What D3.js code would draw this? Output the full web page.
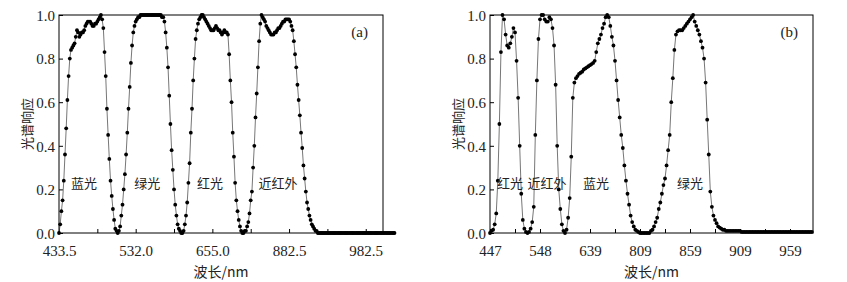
<!DOCTYPE html>
<html>
<head>
<meta charset="utf-8">
<script src="https://cdn.jsdelivr.net/npm/d3@7"></script>
<style>
  body{margin:0;background:#fff;}
  svg{display:block;}
  .cn{font-family:"Noto Sans CJK SC",sans-serif;fill:#222;}
</style>
</head>
<body>
<div id="chart"></div>
<script>
/* spectral response, two filter sets (a) and (b) — values in % */

// panel (a): 32 samples per axis tick step
const RESP_A = [
  0,4,10,15,24,36,48,61,72,80, 84,85,86,87,90,93,92,90,91,92,
  92,93,95,96,97,97,97,96,95,95, 96,96,97,98,99,100,98,94,83,72,
  57,45,34,24,17,11,6,2,1,0, 1,3,8,13,20,27,36,46,57,67,
  78,86,92,95,97,98,99,99,100,100, 100,100,100,100,100,100,100,100,100,100,
  100,100,100,100,100,100,99,99,97,92, 85,76,63,50,38,29,20,13,8,4,
  2,1,0,0,1,4,8,14,23,32, 46,57,70,80,89,93,96,98,99,100,
  100,99,98,97,96,95,94,93,93,93, 94,95,94,93,93,92,91,92,93,92,
  92,91,82,70,60,46,35,23,15,10, 6,3,1,0,0,1,1,3,5,9,
  15,19,30,40,53,64,76,88,96,100, 99,98,97,95,94,93,92,91,91,91,
  92,92,93,94,94,95,96,97,97,98, 98,98,98,97,95,93,88,82,76,68,
  61,54,46,39,31,25,19,14,11,8, 6,4,3,2,1,1,0,0,0,0,
  0,0,0,0,0,0,0,0,0,0, 0,0,0,0,0,0,0,0,0,0,
  0,0,0,0,0,0,0,0,0,0, 0,0,0,0,0,0,0,0,0,0,
  0,0,0,0,0,0,0,0,0,0, 0,0,0,0,0,0,0,0,0,0,
  0
];

// panel (b): 16 samples per axis tick step
const RESP_B = [
  0,1,1.5,4,9,24,50,83,100,98, 91,86,85,87,90,94,92,79,62,40,
  18,6,2,0.5,0,0.5,2,5,12,45, 70,89,98,100,100,98,97,97,99,98,
  94,86,68,40,20,11,4,1,0,1.5, 7,16,35,62,69,71,72,73,73.5,74,
  75,75.5,76,76.5,77,77.5,78,79,83,87, 89,91,94,96,99,100,99,95,90,86,
  79,70,61,53,45,39,31,24,18,13, 8,5,3,1.5,1,0.5,0,0,0,0,
  0,0,0,1,1.5,3,5,7,11,14, 18,22,25,31,38,45,60,71,84,91,
  92.5,93,93,93,94,95,96,97,98,99, 100,97,95,93,91,88,85,80,69,52,
  36,19,12,8,6,4.5,3,2.5,2,1.5, 1.5,1,1,1,1,1,1,1,1,1,
  1,0.5,0.5,0.5,0.5,0.5,0.5,0.5,0.5,0.5, 0.5,0.5,0.5,0.5,0.5,0.5,0.5,0.5,0.5,0.5,
  0.5,0.5,0.5,0.5,0.5,0.5,0.5,0.5,0.5,0.5, 0.5,0.5,0.5,0.5,0.5,0.5,0.5,0.5,0.5,0.5,
  0.5,0.5,0.5,0.5,0.5,0.5,0.5
];

const TICKS_A = ["433.5","532.0","655.0","882.5","982.5"];
const TICKS_B = ["447","548","639","809","859","909","959"];

const BANDS_A = [
  {name:"蓝光", at:0.65}, {name:"绿光", at:2.30},
  {name:"红光", at:3.94}, {name:"近红外", at:5.71}
];
const BANDS_B = [
  {name:"红光", at:0.80}, {name:"近红外", at:2.28},
  {name:"蓝光", at:4.24}, {name:"绿光", at:8.00}
];

const Y_TICKS = [0,0.2,0.4,0.6,0.8,1.0];

const W=847, H=282, TOP=15, BOT=233;
const SERIF = "'Liberation Serif','Times New Roman',serif";

const PANELS = [
  {id:"a", data:RESP_A, perTick:32, ticks:TICKS_A, bands:BANDS_A, x0:59,  x1:383, span:8.45},
  {id:"b", data:RESP_B, perTick:16, ticks:TICKS_B, bands:BANDS_B, x0:490, x1:813, span:12.92}
];

const svg = d3.select("#chart").append("svg").attr("width",W).attr("height",H);

PANELS.forEach(p=>{
  const x = d3.scaleLinear().domain([0,p.span]).range([p.x0,p.x1]);
  const y = d3.scaleLinear().domain([0,1]).range([BOT,TOP]);
  const g = svg.append("g");

  const pts = p.data.map((v,i)=>({u:i/p.perTick, v:v/100}));

  // x axis: tick every step, label every 2nd
  const nTick = Math.floor(p.span)+1;
  g.append("g").attr("transform",`translate(0,${BOT})`)
    .call(d3.axisBottom(x).tickValues(d3.range(nTick)).tickSize(-4).tickPadding(12)
      .tickFormat(d=> d%2===0 ? (p.ticks[d/2]||"") : ""))
    .call(a=>a.select(".domain").remove())
    .call(a=>a.selectAll("line").attr("stroke","#000"))
    .call(a=>a.selectAll("text").style("font-family",SERIF).style("font-size","15px").attr("fill","#222"));

  g.append("g").attr("transform",`translate(${p.x0},0)`)
    .call(d3.axisLeft(y).tickValues(Y_TICKS).tickSize(-4).tickPadding(4)
      .tickFormat(d3.format(".1f")))
    .call(a=>a.select(".domain").remove())
    .call(a=>a.selectAll("line").attr("stroke","#000"))
    .call(a=>a.selectAll("text").attr("dy","0.35em")
      .style("font-family",SERIF).style("font-size","15px").attr("fill","#222"));

  // line + markers
  g.append("path").datum(pts)
    .attr("fill","none").attr("stroke","#777").attr("stroke-width",1)
    .attr("d",d3.line().x(d=>x(d.u)).y(d=>y(d.v)));

  g.selectAll("circle").data(pts).enter().append("circle")
    .attr("cx",d=>x(d.u)).attr("cy",d=>y(d.v)).attr("r",1.9).attr("fill","#000");

  // frame
  g.append("rect").attr("x",p.x0).attr("y",TOP)
    .attr("width",p.x1-p.x0).attr("height",BOT-TOP)
    .attr("fill","none").attr("stroke","#000").attr("stroke-width",1);

  // band labels
  g.selectAll("text.band").data(p.bands).enter().append("text")
    .attr("class","band cn").attr("x",d=>x(d.at)).attr("y",y(0.23))
    .attr("text-anchor","middle").attr("dominant-baseline","central")
    .style("font-size","13px").text(d=>d.name);

  // panel tag
  g.append("text").attr("x",p.x1-15).attr("y",37).attr("text-anchor","end")
    .style("font-family",SERIF).style("font-size","15px").attr("fill","#222")
    .text(`(${p.id})`);

  // titles
  g.append("text").attr("class","cn")
    .attr("transform",`translate(${p.x0-33},${(TOP+BOT)/2}) rotate(-90)`)
    .attr("text-anchor","middle").attr("dominant-baseline","central")
    .style("font-size","13px").text("光谱响应");

  g.append("text").attr("class","cn")
    .attr("x",(p.x0+p.x1)/2).attr("y",277).attr("text-anchor","middle")
    .style("font-size","14px").text("波长/nm");
});
</script>
</body>
</html>
